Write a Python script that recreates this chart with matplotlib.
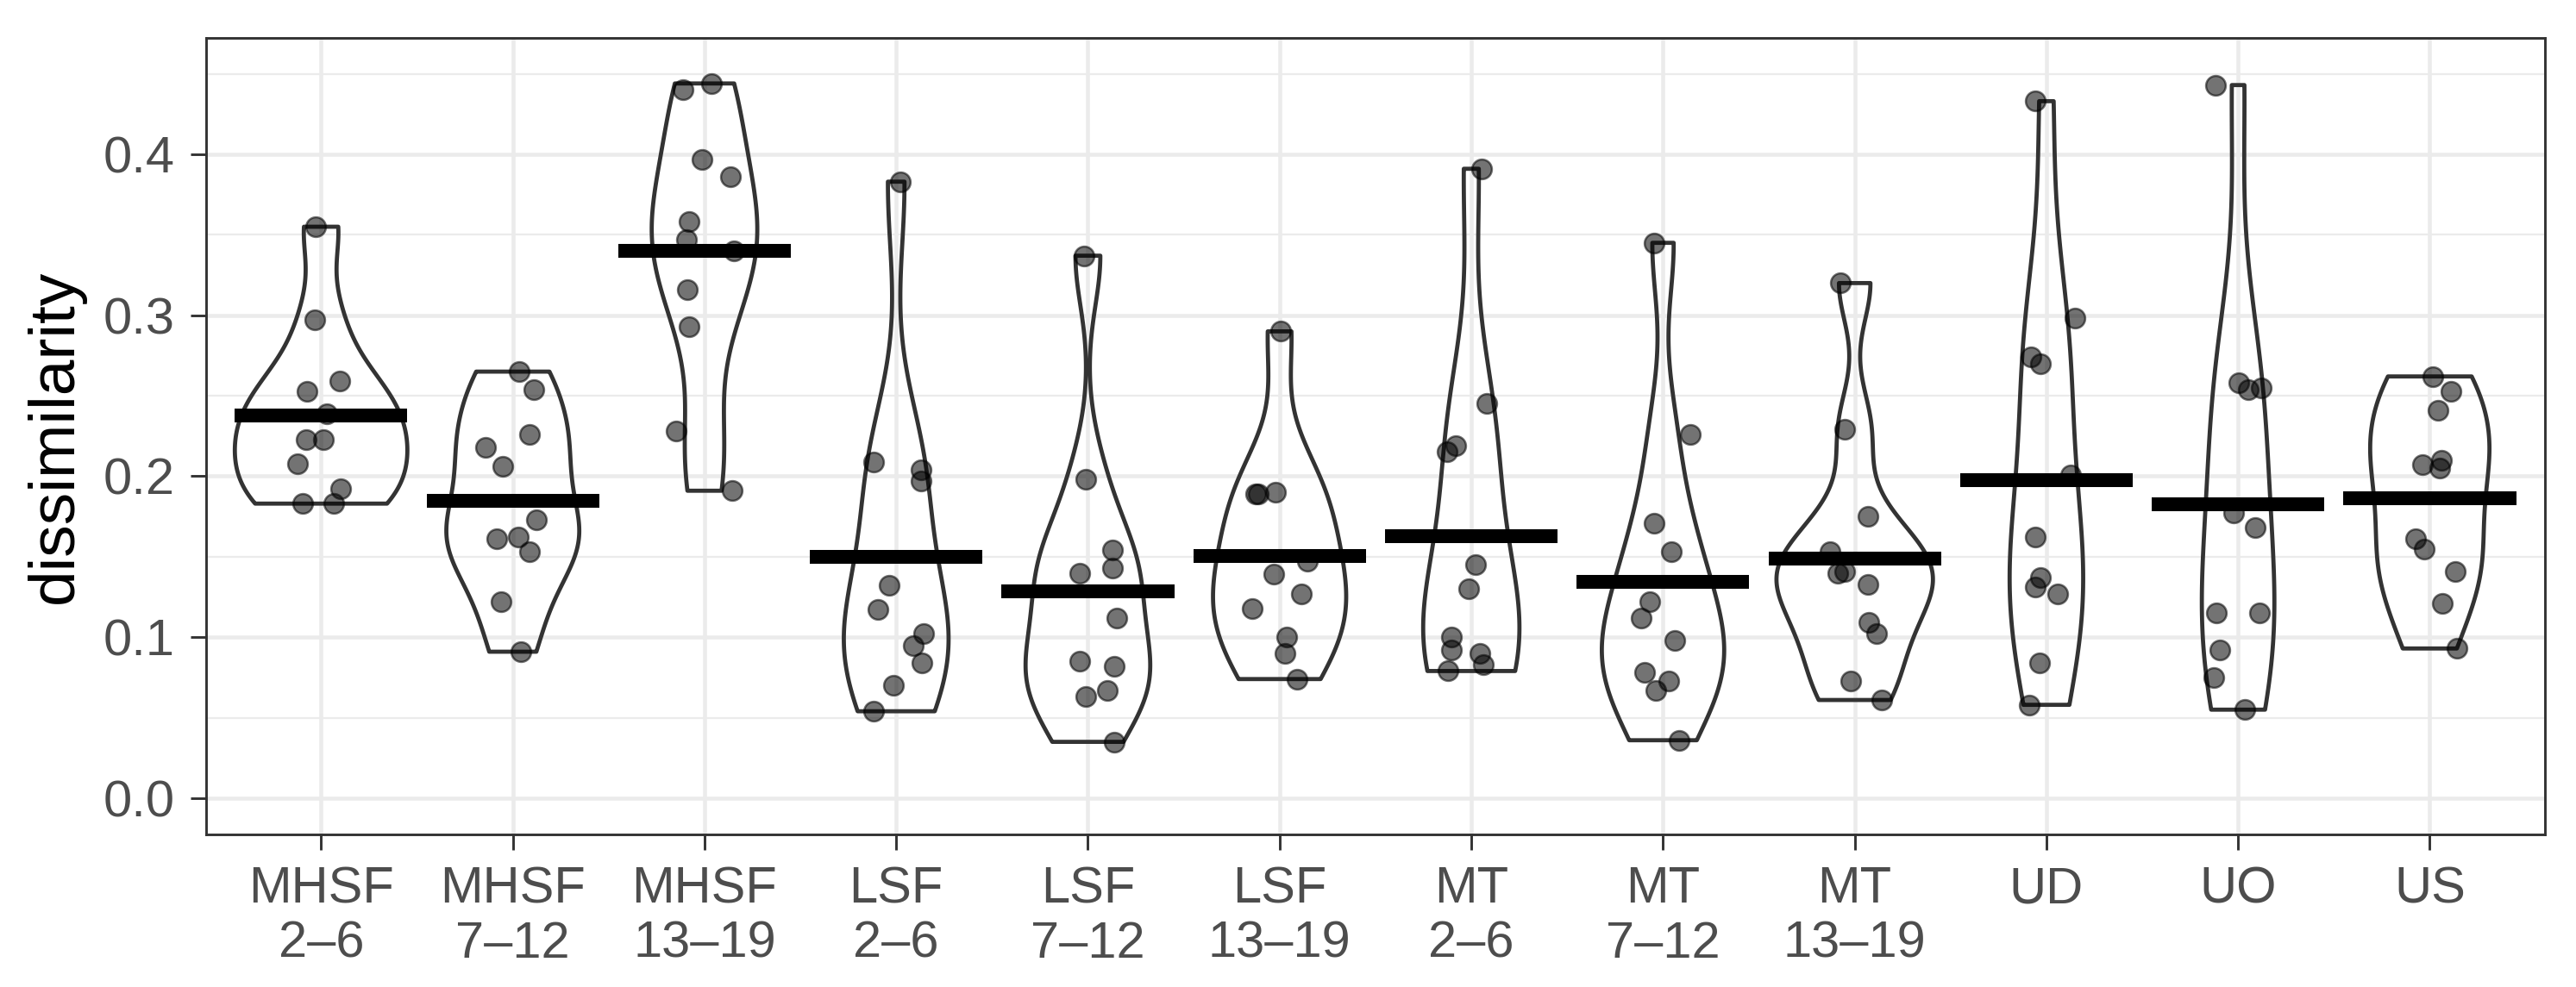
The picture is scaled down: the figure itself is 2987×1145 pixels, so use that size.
import numpy as np
import matplotlib.pyplot as plt
from matplotlib.patches import Polygon

plt.rcParams['font.family'] = ['Liberation Sans', 'DejaVu Sans']

labels = ["MHSF\n2–6", "MHSF\n7–12", "MHSF\n13–19",
          "LSF\n2–6", "LSF\n7–12", "LSF\n13–19",
          "MT\n2–6", "MT\n7–12", "MT\n13–19",
          "UD", "UO", "US"]

# dissimilarity per subject (with the horizontal jitter seen)
mhsf_2_6 = [0.355, 0.297, 0.253, 0.259, 0.239, 0.223, 0.223, 0.208, 0.192, 0.183, 0.183]
mhsf_2_6_dx = [-0.03, -0.034, -0.073, 0.098, 0.03, -0.08, 0.01, -0.124, 0.10, -0.095, 0.068]
mhsf_7_12 = [0.265, 0.254, 0.226, 0.218, 0.206, 0.173, 0.161, 0.162, 0.153, 0.122, 0.091]
mhsf_7_12_dx = [0.034, 0.109, 0.088, -0.144, -0.054, 0.125, -0.085, 0.027, 0.088, -0.061, 0.043]
mhsf_13_19 = [0.440, 0.444, 0.397, 0.386, 0.358, 0.347, 0.340, 0.316, 0.293, 0.228, 0.191]
mhsf_13_19_dx = [-0.112, 0.037, -0.012, 0.137, -0.079, -0.094, 0.152, -0.088, -0.082, -0.147, 0.143]
lsf_2_6 = [0.383, 0.209, 0.204, 0.197, 0.132, 0.117, 0.102, 0.095, 0.084, 0.070, 0.054]
lsf_2_6_dx = [0.022, -0.119, 0.131, 0.131, -0.037, -0.097, 0.141, 0.089, 0.134, -0.015, -0.119]
lsf_7_12 = [0.337, 0.198, 0.154, 0.143, 0.140, 0.112, 0.085, 0.082, 0.067, 0.063, 0.035]
lsf_7_12_dx = [-0.019, -0.012, 0.13, 0.13, -0.042, 0.153, -0.042, 0.138, 0.10, -0.012, 0.138]
lsf_13_19 = [0.290, 0.189, 0.189, 0.190, 0.147, 0.139, 0.127, 0.118, 0.100, 0.090, 0.074]
lsf_13_19_dx = [0.007, -0.127, -0.112, -0.022, 0.147, -0.03, 0.112, -0.142, 0.037, 0.03, 0.09]
mt_2_6 = [0.391, 0.245, 0.219, 0.215, 0.145, 0.130, 0.100, 0.092, 0.090, 0.083, 0.079]
mt_2_6_dx = [0.053, 0.08, -0.083, -0.128, 0.023, -0.015, -0.105, -0.105, 0.045, 0.063, -0.12]
mt_7_12 = [0.345, 0.226, 0.171, 0.153, 0.122, 0.112, 0.098, 0.078, 0.073, 0.067, 0.036]
mt_7_12_dx = [-0.045, 0.143, -0.045, 0.045, -0.068, -0.113, 0.06, -0.098, 0.03, -0.038, 0.083]
mt_13_19 = [0.320, 0.229, 0.175, 0.153, 0.140, 0.141, 0.133, 0.109, 0.102, 0.073, 0.061]
mt_13_19_dx = [-0.075, -0.052, 0.067, -0.127, -0.09, -0.052, 0.067, 0.075, 0.112, -0.022, 0.142]
ud = [0.433, 0.298, 0.274, 0.270, 0.201, 0.162, 0.137, 0.131, 0.127, 0.084, 0.058]
ud_dx = [-0.06, 0.149, -0.082, -0.03, 0.127, -0.06, -0.03, -0.06, 0.06, -0.037, -0.09]
uo = [0.443, 0.258, 0.254, 0.255, 0.177, 0.168, 0.115, 0.115, 0.092, 0.075, 0.055]
uo_dx = [-0.119, 0.004, 0.052, 0.119, -0.022, 0.09, -0.112, 0.112, -0.097, -0.127, 0.037]
us = [0.262, 0.253, 0.241, 0.207, 0.210, 0.205, 0.161, 0.155, 0.141, 0.121, 0.093]
us_dx = [0.015, 0.112, 0.045, -0.037, 0.06, 0.052, -0.075, -0.03, 0.134, 0.067, 0.142]

groups = [(mhsf_2_6, mhsf_2_6_dx), (mhsf_7_12, mhsf_7_12_dx), (mhsf_13_19, mhsf_13_19_dx),
          (lsf_2_6, lsf_2_6_dx), (lsf_7_12, lsf_7_12_dx), (lsf_13_19, lsf_13_19_dx),
          (mt_2_6, mt_2_6_dx), (mt_7_12, mt_7_12_dx), (mt_13_19, mt_13_19_dx),
          (ud, ud_dx), (uo, uo_dx), (us, us_dx)]


def bw_nrd0(x):
    # R's default bandwidth (Silverman's rule of thumb)
    sd = np.std(x, ddof=1)
    iqr = np.percentile(x, 75) - np.percentile(x, 25)
    lo = min(sd, iqr / 1.34)
    if lo == 0:
        lo = sd
    return 0.9 * lo * len(x) ** (-0.2)


def density(x, n=512):
    # gaussian kde trimmed to the data range, like geom_violin(trim=TRUE)
    x = np.asarray(x)
    bw = bw_nrd0(x)
    grid = np.linspace(x.min(), x.max(), n)
    d = np.exp(-0.5 * ((grid[:, None] - x[None, :]) / bw) ** 2).sum(axis=1)
    d /= len(x) * bw * np.sqrt(2 * np.pi)
    return grid, d


dens = [density(v) for v, _ in groups]
dmax = max(d.max() for _, d in dens)

fig = plt.figure(figsize=(2987 / 300, 1145 / 300), dpi=300)
ax = fig.add_axes([0.0800, 0.1546, 0.9079, 0.8070])

for i, ((vals, dx), (grid, d)) in enumerate(zip(groups, dens)):
    hw = 0.45 * d / dmax
    xs = np.concatenate([i - hw, (i + hw)[::-1]])
    ys = np.concatenate([grid, grid[::-1]])
    ax.add_patch(Polygon(np.column_stack([xs, ys]), closed=True, fill=False,
                         edgecolor='#333333', lw=1.15, joinstyle='round', zorder=2))
    ax.scatter(i + np.array(dx), vals, s=30, facecolor=(0, 0, 0, 0.55),
               edgecolor=(0, 0, 0, 0.55), linewidths=0.6, zorder=3)
    m = np.mean(vals)
    ax.plot([i - 0.45, i + 0.45], [m, m], color='black', lw=3.85,
            solid_capstyle='butt', zorder=4)

ax.set_xlim(-0.6, 11.6)
ax.set_ylim(-0.0225, 0.4723)

yt = [0.0, 0.1, 0.2, 0.3, 0.4]
ax.set_yticks(yt)
ax.set_yticklabels([f"{t:.1f}" for t in yt])
ax.set_yticks([0.05, 0.15, 0.25, 0.35, 0.45], minor=True)
ax.set_xticks(range(len(labels)))
ax.set_xticklabels(labels, linespacing=1.2)

ax.set_axisbelow(True)
ax.grid(which='major', color='#EBEBEB', lw=1.1)
ax.grid(which='minor', axis='y', color='#EBEBEB', lw=0.55)

for s in ax.spines.values():
    s.set_color('#333333')
    s.set_linewidth(0.7)
ax.tick_params(which='major', length=4.4, width=0.7, color='#333333',
               labelsize=14.3, labelcolor='#4D4D4D', pad=4.3)
ax.tick_params(which='minor', length=0)

ax.set_ylabel("dissimilarity", fontsize=18, color='black', labelpad=5)

fig.savefig("out.png", dpi=300)
